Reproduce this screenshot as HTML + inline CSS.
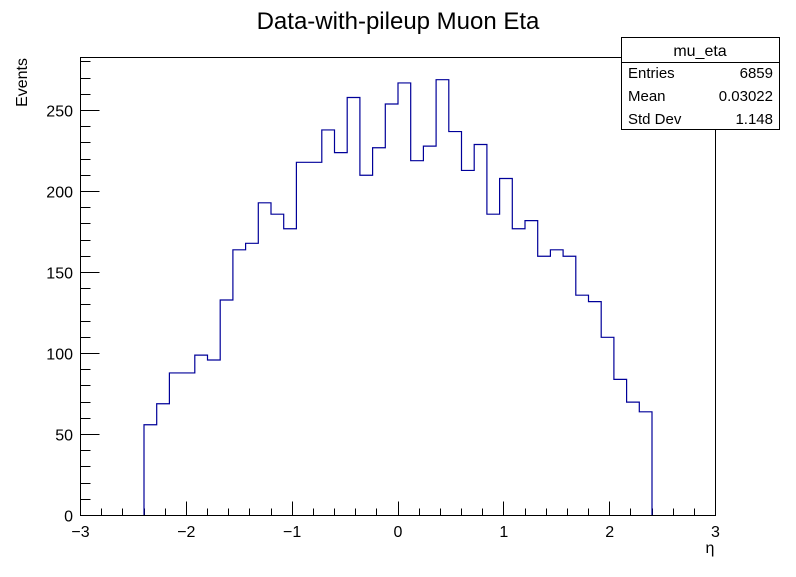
<!DOCTYPE html>
<html><head><meta charset="utf-8"><style>
body{margin:0;background:#fff;}
svg text{font-family:"Liberation Sans",Arial,sans-serif;}
</style></head><body>
<svg id="chart" width="796" height="572" viewBox="0 0 796 572" xmlns="http://www.w3.org/2000/svg">
<rect width="796" height="572" fill="#fff"/>
<text x="398" y="29" font-size="24" text-anchor="middle">Data-with-pileup Muon Eta</text>
<g id="axes"></g>
<path id="hist" fill="none" stroke="#000099" stroke-width="1.2"/>
<rect x="80.5" y="57.5" width="635" height="458" fill="none" stroke="#000" stroke-width="1"/>
<g>
<rect x="621.5" y="37.5" width="158" height="92" fill="#fff" stroke="#000"/>
<line x1="621.5" y1="62.5" x2="779.5" y2="62.5" stroke="#000"/>
<text x="700" y="56" font-size="16" text-anchor="middle">mu_eta</text>
<text x="628" y="78" font-size="15">Entries</text><text x="773" y="78" font-size="15" text-anchor="end">6859</text>
<text x="628" y="101" font-size="15">Mean</text><text x="773" y="101" font-size="15" text-anchor="end">0.03022</text>
<text x="628" y="124" font-size="15">Std Dev</text><text x="773" y="124" font-size="15" text-anchor="end">1.148</text>
</g>
<text x="0" y="0" font-size="16" text-anchor="end" transform="translate(27,58) rotate(-90)">Events</text>
<text x="710" y="553" font-size="16" text-anchor="middle">η</text>
</svg>
<script>
const binLow = -2.4;
const binWidth = 0.12;
const counts = [56,69,88,88,99,96,133,164,168,193,186,177,218,218,238,224,258,210,227,254,
                267,219,228,269,237,213,229,186,208,177,182,160,164,160,136,132,110,84,70,64];
const xTicks = [-3,-2,-1,0,1,2,3];
const yTicks = [0,50,100,150,200,250];

const X0=80.5, X1=715.5, Y0=515.5, Y1=57.5;
const xmin=-3, xmax=3, ymax=282.7;
function sx(v){return X0+(v-xmin)/(xmax-xmin)*(X1-X0);}
function sy(v){return Y0-v/ymax*(Y0-Y1);}
const NS="http://www.w3.org/2000/svg";
const axes=document.getElementById('axes');
function line(x1,y1,x2,y2,name){
  const l=document.createElementNS(NS,'line');
  l.setAttribute('x1',x1);l.setAttribute('y1',y1);l.setAttribute('x2',x2);l.setAttribute('y2',y2);
  l.setAttribute('stroke','#000');l.setAttribute('stroke-width','1');
  
  
  axes.appendChild(l);
}
function text(x,y,s,anchor,name){
  const t=document.createElementNS(NS,'text');
  t.setAttribute('x',x);t.setAttribute('y',y);t.setAttribute('font-size','16');t.setAttribute('text-anchor',anchor);
  t.textContent=s;
  
  
  axes.appendChild(t);
}
for(let v=xmin; v<=xmax+1e-9; v+=0.2){
  const isMaj=Math.abs(v-Math.round(v))<1e-6;
  const x=Math.floor(sx(v)+0.01)+0.5;
  line(x,Y0,x,Y0-(isMaj?14:7),'x-tick');
}
xTicks.forEach(v=>text(sx(v),537,(v<0?'\u2212'+(-v):String(v)),'middle','x-tick-label'));
for(let v=0; v<=ymax; v+=10){
  const isMaj=v%50===0;
  const y=Math.floor(sy(v)+0.01)+0.5;
  line(X0,y,X0+(isMaj?19:10),y,'y-tick');
}
yTicks.forEach(v=>text(73,sy(v)+6,String(v),'end','y-tick-label'));
let d='M'+sx(binLow)+','+sy(0);
counts.forEach((c,i)=>{
  const xa=sx(binLow+i*binWidth), xb=sx(binLow+(i+1)*binWidth);
  d+=' L'+xa+','+sy(c)+' L'+xb+','+sy(c);
});
d+=' L'+sx(binLow+counts.length*binWidth)+','+sy(0);
document.getElementById('hist').setAttribute('d',d);
</script>
</body></html>
